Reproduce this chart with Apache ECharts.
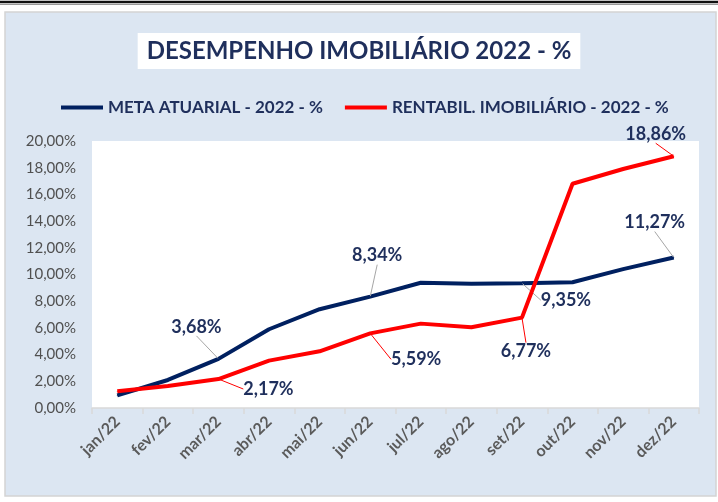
<!DOCTYPE html>
<html>
<head>
<meta charset="utf-8">
<script src="https://cdn.jsdelivr.net/npm/echarts@6/dist/echarts.min.js"></script>
<style>
html,body{margin:0;padding:0;background:#fff;}
#c{width:718px;height:502px;}
</style>
</head>
<body>
<div id="c"></div>
<script>
var categories = ['jan/22','fev/22','mar/22','abr/22','mai/22','jun/22','jul/22','ago/22','set/22','out/22','nov/22','dez/22'];
var metaAtuarial = [0.95, 2.1, 3.68, 5.9, 7.4, 8.34, 9.38, 9.3, 9.35, 9.42, 10.4, 11.27];
var rentabImob = [1.25, 1.65, 2.17, 3.55, 4.25, 5.59, 6.32, 6.05, 6.77, 16.8, 17.9, 18.86];
var seriesNames = ['META ATUARIAL - 2022 - %', 'RENTABIL. IMOBILIÁRIO - 2022 - %'];
var yTicks = [0, 2, 4, 6, 8, 10, 12, 14, 16, 18, 20];
// indices that carry a data label, with label displacements (style only)
var metaLabelIdx = [2, 5, 8, 11];
var metaLabelOff = [[-22,-32],[7,-41],[44,17],[-19,-35]];
var rentLabelIdx = [2, 5, 8, 11];
var rentLabelOff = [[50,10],[46,26],[4,34],[-18,-22]];

var FONT = "Lato,'Open Sans',sans-serif";
var NAVY = '#002060';
var TXT = '#1F2F5C';
var labelIdx = [metaLabelIdx, rentLabelIdx];
var labelOff = [metaLabelOff, rentLabelOff];

function fmt(v){ return v.toFixed(2).replace('.', ',') + '%'; }

function buildData(vals, idx){
  return vals.map(function(v, i){
    if (idx.indexOf(i) < 0) return v;
    return {value: v, label: {show: true}, labelLine: {show: true}};
  });
}

function layoutFn(p){
  var k = labelIdx[p.seriesIndex].indexOf(p.dataIndex);
  if (k < 0) return {};
  var o = labelOff[p.seriesIndex][k];
  return {dx: o[0], dy: o[1]};
}

var chart = echarts.init(document.getElementById('c'), null, {renderer: 'canvas'});
chart.setOption({
  animation: false,
  backgroundColor: '#ffffff',
  graphic: [
    {type: 'rect', z: -10, shape: {x: 5, y: 12, width: 711, height: 484}, style: {fill: '#DCE6F2', stroke: '#D4D4D4', lineWidth: 1.5}},
    {type: 'rect', z: -9, shape: {x: 92, y: 141, width: 607, height: 267}, style: {fill: '#ffffff'}},
    {type: 'line', shape: {x1: 0, y1: 2, x2: 718, y2: 2}, style: {stroke: '#111', lineWidth: 2.5}},
    {type: 'line', shape: {x1: 0, y1: 4.5, x2: 718, y2: 4.5}, style: {stroke: '#999', lineWidth: 1}}
  ],
  title: {
    text: 'DESEMPENHO IMOBILIÁRIO 2022 - %',
    left: 'center',
    top: 33,
    backgroundColor: '#ffffff',
    padding: [6, 9, 6, 9],
    textStyle: {fontFamily: FONT, fontSize: 24, fontWeight: 'bold', color: TXT}
  },
  legend: {
    top: 94,
    left: 56,
    itemGap: 22,
    itemWidth: 42,
    itemHeight: 4,
    icon: 'rect',
    data: seriesNames,
    textStyle: {fontFamily: FONT, fontSize: 17, fontWeight: 'bold', color: TXT}
  },
  grid: {left: 92, right: 19, top: 141, bottom: 94, containLabel: false},
  xAxis: {
    type: 'category',
    data: categories,
    boundaryGap: true,
    axisLine: {show: true, lineStyle: {color: '#D9D9D9', width: 1.5}},
    axisTick: {show: true, length: 6, lineStyle: {color: '#D9D9D9', width: 1.5}},
    axisLabel: {rotate: 45, fontFamily: FONT, fontSize: 16, fontWeight: 'bold', color: '#5A5A5A', margin: 11, interval: 0}
  },
  yAxis: {
    type: 'value',
    min: 0, max: 20, interval: 2,
    axisLine: {show: false},
    axisTick: {show: false},
    splitLine: {show: false},
    axisLabel: {fontFamily: FONT, fontSize: 15, color: '#505050', margin: 16,
      formatter: function(v){ return yTicks.indexOf(v) >= 0 ? fmt(v) : ''; }}
  },
  series: [
    {
      name: seriesNames[0],
      type: 'line',
      data: buildData(metaAtuarial, metaLabelIdx),
      symbol: 'circle', symbolSize: 1,
      lineStyle: {color: NAVY, width: 4},
      itemStyle: {color: NAVY},
      label: {show: false, position: 'inside', fontFamily: FONT, fontSize: 18, fontWeight: 'bold', color: TXT, formatter: function(p){ return fmt(p.value); }},
      labelLine: {show: false, lineStyle: {color: '#A6A6A6', width: 1}},
      labelLayout: layoutFn,
      z: 3
    },
    {
      name: seriesNames[1],
      type: 'line',
      data: buildData(rentabImob, rentLabelIdx),
      symbol: 'circle', symbolSize: 1,
      lineStyle: {color: '#FF0000', width: 4},
      itemStyle: {color: '#FF0000'},
      label: {show: false, position: 'inside', fontFamily: FONT, fontSize: 18, fontWeight: 'bold', color: TXT, formatter: function(p){ return fmt(p.value); }},
      labelLine: {show: false, lineStyle: {color: '#FF0000', width: 1}},
      labelLayout: layoutFn,
      z: 4
    }
  ]
});
</script>
</body>
</html>
